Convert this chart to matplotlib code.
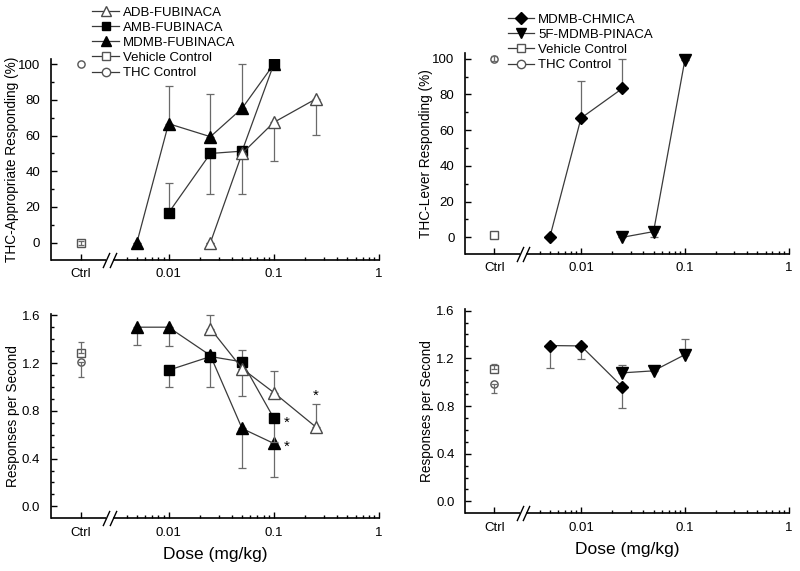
import matplotlib
matplotlib.use("Agg")
import matplotlib.pyplot as plt
from matplotlib.lines import Line2D
from matplotlib.path import Path
import numpy as np

plt.rcParams['font.family'] = ['Liberation Sans', 'DejaVu Sans']

# ---------------- data ----------------
tick_labels = ['Ctrl', '0.01', '0.1', '1']
tick_doses = [0.01, 0.1, 1]

# Top-left: % THC-appropriate responding
adb_doses = [0.025, 0.05, 0.1, 0.25]
adb_thc = [0, 50, 67.4, 80.5]
adb_thc_lo = [0, 22.5, 21.4, 20.2]
adb_thc_hi = [0, 0, 0, 0]

amb_doses = [0.01, 0.025, 0.05, 0.1]
amb_thc = [16.7, 50, 51.3, 100]
amb_thc_lo = [0, 22.5, 0, 0]
amb_thc_hi = [16.7, 0, 0, 0]

mdmbf_doses = [0.005, 0.01, 0.025, 0.05, 0.1]
mdmbf_thc = [0, 66.7, 59.4, 75.3, 100]
mdmbf_thc_lo = [0, 0, 0, 0, 0]
mdmbf_thc_hi = [0, 21.1, 23.7, 24.7, 0]

tl_vehicle = 0.0
tl_vehicle_err = 1.2
tl_thc = 100.0
tl_thc_err = 0.0

# Top-right
chm_doses = [0.005, 0.01, 0.025]
chm_thc = [0, 66.7, 83.3]
chm_thc_lo = [0, 0, 0]
chm_thc_hi = [0, 20.8, 16.7]

pin_doses = [0.025, 0.05, 0.1]
pin_thc = [0, 3.2, 99]
pin_thc_lo = [0, 3.2, 0]
pin_thc_hi = [0, 0, 0]

tr_vehicle = 1.3
tr_vehicle_err = 0.0
tr_thc = 100.0
tr_thc_err = 1.2

# Bottom-left: response rate
adb_rate = [1.488, 1.154, 0.953, 0.666]
adb_rate_lo = [0, 0.234, 0, 0]
adb_rate_hi = [0.11, 0, 0.184, 0.195]

amb_rate = [1.14, 1.254, 1.21, 0.739]
amb_rate_lo = [0.14, 0, 0, 0.2]
amb_rate_hi = [0, 0, 0.10, 0]

mdmbf_rate = [1.50, 1.50, 1.263, 0.652, 0.527]
mdmbf_rate_lo = [0.15, 0.16, 0.26, 0.33, 0.28]
mdmbf_rate_hi = [0, 0, 0, 0, 0]

bl_vehicle = 1.288
bl_vehicle_lo, bl_vehicle_hi = 0.0, 0.09
bl_thc = 1.21
bl_thc_lo, bl_thc_hi = 0.13, 0.0

bl_star_dose = [0.1, 0.1, 0.25]
bl_star_val = [0.739, 0.527, 0.861]

# Bottom-right
chm_rate = [1.307, 1.304, 0.961]
chm_rate_lo = [0.19, 0.11, 0.174]
chm_rate_hi = [0, 0, 0]

pin_rate = [1.078, 1.095, 1.23]
pin_rate_lo = [0, 0, 0]
pin_rate_hi = [0.07, 0.035, 0.135]

br_vehicle = 1.114
br_vehicle_lo, br_vehicle_hi = 0.0, 0.042
br_thc = 0.986
br_thc_lo, br_thc_hi = 0.08, 0.0

# ---------------- style ----------------
CTRL = 10 ** -2.835
XMIN, XMAX = 10 ** -3.12, 10 ** 0.01
BRK_L, BRK_R = 10 ** -2.59, 10 ** -2.53
LINE_C = '#3a3a3a'
ERR_C = '#6a6a6a'
OPEN_EDGE = '#4a4a4a'
CTRL_EDGE = '#555555'

fig = plt.figure(figsize=(8, 5.71), dpi=100)

ax_tl = fig.add_axes([0.0634, 0.5447, 0.4116, 0.3515])
ax_tr = fig.add_axes([0.581, 0.556, 0.406, 0.3507])
ax_bl = fig.add_axes([0.0634, 0.0923, 0.4116, 0.3577])
ax_br = fig.add_axes([0.581, 0.101, 0.406, 0.3571])

slash = Path([(-0.45, -1.0), (0.45, 1.0)], [Path.MOVETO, Path.LINETO])


def setup_axis(ax, ylim, major, minor, fmt):
    ax.set_xscale('log')
    ax.set_xlim(XMIN, XMAX)
    ax.set_ylim(*ylim)
    for s in ['top', 'right', 'bottom']:
        ax.spines[s].set_visible(False)
    ax.spines['left'].set_linewidth(1.2)
    ax.set_xticks([CTRL] + tick_doses)
    ax.set_xticklabels(tick_labels)
    mt = [m * 10.0 ** e for e in (-3, -2, -1) for m in range(2, 10) if m * 10.0 ** e >= 0.0039]
    ax.set_xticks(mt, minor=True)
    ax.set_xticklabels([''] * len(mt), minor=True)
    ax.set_yticks(major)
    ax.set_yticks(minor, minor=True)
    ax.set_yticklabels([fmt % v for v in major])
    ax.tick_params(axis='both', which='major', direction='in', length=4.5, width=1.0,
                   labelsize=9.5, color='black')
    ax.tick_params(axis='both', which='minor', direction='in', length=2.5, width=1.0)
    ax.tick_params(axis='y', which='major', pad=7.5)
    ax.tick_params(axis='x', which='major', pad=6)
    tr = ax.get_xaxis_transform()
    ax.plot([XMIN, BRK_L], [0, 0], color='black', lw=1.2, transform=tr, clip_on=False,
            solid_capstyle='butt')
    ax.plot([BRK_R, XMAX], [0, 0], color='black', lw=1.2, transform=tr, clip_on=False,
            solid_capstyle='butt')
    ax.plot([BRK_L, BRK_R], [0, 0], linestyle='none', marker=slash, markersize=11,
            markeredgecolor='black', markeredgewidth=1.0, transform=tr, clip_on=False)


def series(ax, x, y, lo, hi, marker, filled, ms, z):
    ax.errorbar(x, y, yerr=[lo, hi], fmt='none', ecolor=ERR_C, elinewidth=0.9,
                capsize=2.8, capthick=0.9, zorder=z)
    ax.plot(x, y, color=LINE_C, lw=0.9, zorder=z + 0.1)
    ax.plot(x, y, linestyle='none', marker=marker, ms=ms,
            markerfacecolor='black' if filled else 'white',
            markeredgecolor='black' if filled else OPEN_EDGE,
            markeredgewidth=1.0, zorder=z + 0.2)


def control(ax, y, lo, hi, marker):
    ax.plot([CTRL], [y], linestyle='none', marker=marker, ms=5.2, markerfacecolor='white',
            markeredgecolor=CTRL_EDGE, markeredgewidth=1.0, zorder=5, clip_on=False)
    if lo > 0 or hi > 0:
        ax.errorbar([CTRL], [y], yerr=[[lo], [hi]], fmt='none', ecolor=ERR_C,
                    elinewidth=0.9, capsize=2.5, capthick=0.9, zorder=6)


# Top-left
setup_axis(ax_tl, (-9.7, 102.8), [0, 20, 40, 60, 80, 100], [10, 30, 50, 70, 90], '%d')
series(ax_tl, mdmbf_doses, mdmbf_thc, mdmbf_thc_lo, mdmbf_thc_hi, '^', True, 8.5, 2)
series(ax_tl, amb_doses, amb_thc, amb_thc_lo, amb_thc_hi, 's', True, 7, 3)
series(ax_tl, adb_doses, adb_thc, adb_thc_lo, adb_thc_hi, '^', False, 8.5, 4)
control(ax_tl, tl_vehicle, tl_vehicle_err, tl_vehicle_err, 's')
control(ax_tl, tl_thc, tl_thc_err, tl_thc_err, 'o')
ax_tl.set_ylabel('THC-Appropriate Responding (%)', fontsize=9.8)
ax_tl.yaxis.set_label_coords(-0.095, 0.5)

# Top-right
setup_axis(ax_tr, (-9.07, 103), [0, 20, 40, 60, 80, 100], [10, 30, 50, 70, 90], '%d')
series(ax_tr, chm_doses, chm_thc, chm_thc_lo, chm_thc_hi, 'D', True, 6.5, 2)
series(ax_tr, pin_doses, pin_thc, pin_thc_lo, pin_thc_hi, 'v', True, 8.5, 3)
control(ax_tr, tr_vehicle, tr_vehicle_err, tr_vehicle_err, 's')
control(ax_tr, tr_thc, tr_thc_err, tr_thc_err, 'o')
ax_tr.set_ylabel('THC-Lever Responding (%)', fontsize=9.8)
ax_tr.yaxis.set_label_coords(-0.098, 0.5)

# Bottom-left
setup_axis(ax_bl, (-0.1, 1.61), [0.0, 0.4, 0.8, 1.2, 1.6],
           [0.1, 0.2, 0.3, 0.5, 0.6, 0.7, 0.9, 1.0, 1.1, 1.3, 1.4, 1.5], '%.1f')
series(ax_bl, mdmbf_doses, mdmbf_rate, mdmbf_rate_lo, mdmbf_rate_hi, '^', True, 8.5, 2)
series(ax_bl, amb_doses, amb_rate, amb_rate_lo, amb_rate_hi, 's', True, 7, 3)
series(ax_bl, adb_doses, adb_rate, adb_rate_lo, adb_rate_hi, '^', False, 8.5, 4)
control(ax_bl, bl_vehicle, bl_vehicle_lo, bl_vehicle_hi, 's')
control(ax_bl, bl_thc, bl_thc_lo, bl_thc_hi, 'o')
star_off = [(9, -3.6), (9, -2.3), (0, 5.8)]
for d, v, off in zip(bl_star_dose, bl_star_val, star_off):
    ax_bl.annotate('*', (d, v), xytext=off, textcoords='offset points',
                   ha='center', va='center', fontsize=11)
ax_bl.set_ylabel('Responses per Second', fontsize=9.8)
ax_bl.yaxis.set_label_coords(-0.092, 0.5)
ax_bl.set_xlabel('Dose (mg/kg)', fontsize=12.5, labelpad=6)

# Bottom-right
setup_axis(ax_br, (-0.1, 1.61), [0.0, 0.4, 0.8, 1.2, 1.6],
           [0.1, 0.2, 0.3, 0.5, 0.6, 0.7, 0.9, 1.0, 1.1, 1.3, 1.4, 1.5], '%.1f')
series(ax_br, chm_doses, chm_rate, chm_rate_lo, chm_rate_hi, 'D', True, 6.5, 2)
series(ax_br, pin_doses, pin_rate, pin_rate_lo, pin_rate_hi, 'v', True, 8.5, 3)
control(ax_br, br_vehicle, br_vehicle_lo, br_vehicle_hi, 's')
control(ax_br, br_thc, br_thc_lo, br_thc_hi, 'o')
ax_br.set_ylabel('Responses per Second', fontsize=9.8)
ax_br.yaxis.set_label_coords(-0.094, 0.5)
ax_br.set_xlabel('Dose (mg/kg)', fontsize=12.5, labelpad=6)


def handle(marker, filled, ms, edge=None):
    return Line2D([], [], color=LINE_C, lw=0.9, marker=marker, ms=ms,
                  markerfacecolor='black' if filled else 'white',
                  markeredgecolor=edge if edge else ('black' if filled else OPEN_EDGE))


leg1 = [handle('^', False, 7.5), handle('s', True, 6), handle('^', True, 7.5),
        handle('s', False, 6, CTRL_EDGE), handle('o', False, 6, CTRL_EDGE)]
fig.legend(leg1, ['ADB-FUBINACA', 'AMB-FUBINACA', 'MDMB-FUBINACA', 'Vehicle Control',
                  'THC Control'],
           loc='upper left', bbox_to_anchor=(0.104, 1.005), frameon=False, fontsize=9.5,
           handlelength=2.0, handletextpad=0.3, labelspacing=0.22, borderpad=0.2)

leg2 = [handle('D', True, 6), handle('v', True, 7.5),
        handle('s', False, 6, CTRL_EDGE), handle('o', False, 6, CTRL_EDGE)]
fig.legend(leg2, ['MDMB-CHMICA', '5F-MDMB-PINACA', 'Vehicle Control', 'THC Control'],
           loc='upper left', bbox_to_anchor=(0.623, 0.9925), frameon=False, fontsize=9.5,
           handlelength=2.0, handletextpad=0.3, labelspacing=0.22, borderpad=0.2)

fig.savefig('out.png', dpi=100)
